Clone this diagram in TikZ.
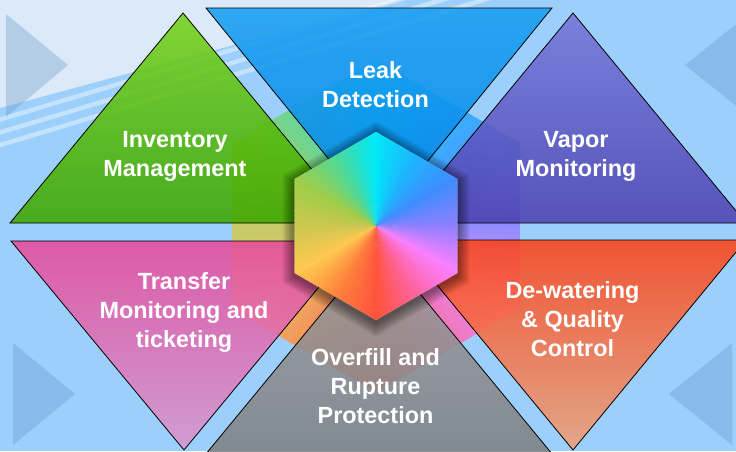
\documentclass[tikz,border=0pt]{standalone}
\usepackage{fontspec}
\setmainfont{Liberation Sans}
\definecolor{bgblue}{RGB}{156,207,251}
\definecolor{bgwhite}{RGB}{220,233,248}
\definecolor{decoc}{RGB}{90,143,192}
% conic keyframes
\definecolor{hA}{RGB}{0,232,248}
\definecolor{hB}{RGB}{30,180,255}
\definecolor{hC}{RGB}{64,140,255}
\definecolor{hD}{RGB}{140,128,255}
\definecolor{hE}{RGB}{250,128,255}
\definecolor{hF}{RGB}{255,100,160}
\definecolor{hG}{RGB}{255,84,60}
\definecolor{hH}{RGB}{255,130,60}
\definecolor{hI}{RGB}{255,200,80}
\definecolor{hJ}{RGB}{205,200,80}
\definecolor{hK}{RGB}{160,205,72}
\definecolor{hL}{RGB}{80,216,150}
\definecolor{hMid}{RGB}{200,190,200}
% triangle colours
\definecolor{greenT}{RGB}{118,210,26}
\definecolor{greenB}{RGB}{60,166,0}
\definecolor{blueT}{RGB}{24,158,242}
\definecolor{blueB}{RGB}{4,132,230}
\definecolor{purpT}{RGB}{118,118,216}
\definecolor{purpB}{RGB}{76,66,176}
\definecolor{pinkT}{RGB}{230,74,156}
\definecolor{pinkB}{RGB}{216,150,206}
\definecolor{grayT}{RGB}{160,158,158}
\definecolor{grayB}{RGB}{126,128,130}
\definecolor{oranT}{RGB}{252,68,24}
\definecolor{oranB}{RGB}{236,162,122}
\newcommand\conicfill[3]{%
  \foreach \aA/\cA/\cB in {90/hA/hB,60/hB/hC,30/hC/hD,0/hD/hE,-30/hE/hF,-60/hF/hG,-90/hG/hH,-120/hH/hI,-150/hI/hJ,-180/hJ/hK,-210/hK/hL,-240/hL/hA}{%
    \foreach \t in {0,...,9}{%
      \pgfmathsetmacro\ang{\aA-3*\t}%
      \pgfmathtruncatemacro\pct{10*\t}%
      \colorlet{wc}{\cB!\pct!\cA}%
      \colorlet{wd}{wc!#3!bgblue}%
      \fill[wd] (#1) -- +({\ang+2}:#2) -- +({\ang-2}:#2) -- cycle;
    }%
  }%
}
\tikzset{
  tri/.style={draw=black, line width=0.8pt, fill opacity=0.88, line join=miter},
  deco/.style={fill=decoc, fill opacity=0.3},
  lbl/.style={text=white, font=\bfseries\fontsize{23.4}{29}\selectfont, align=center, inner sep=0pt},
  shad/.style={fill=black, fill opacity=0.035}
}
\begin{document}
\begin{tikzpicture}[x=1pt,y=1pt]
\useasboundingbox (0,0) rectangle (736,-451);
\clip (0,0) rectangle (736,-451);
% background
\fill[bgblue] (0,0) rectangle (736,-451);
\fill[bgwhite] (0,0) -- (400,0) -- (0,-108) -- cycle;
\foreach \o in {119.5,132.5,145}
  \draw[white, opacity=0.4, line width=4.5pt] (-5,{-\o-1.5}) -- (500,{150-\o});
% decorative arrows
\fill[deco] (6,-14) -- (6,-117) -- (68,-65) -- cycle;
\fill[deco] (685,-65) -- (750,-13) -- (750,-117) -- cycle;
\fill[deco] (13,-343) -- (13,-445) -- (75,-394) -- cycle;
\fill[deco] (669,-394) -- (732,-343) -- (732,-445) -- cycle;
% large faint hexagon
\coordinate (C) at (376,-226);
\begin{scope}
  \clip (376,-60) -- (519.8,-143) -- (519.8,-309) -- (376,-392) -- (232.2,-309) -- (232.2,-143) -- cycle;
  \conicfill{C}{200}{85}
\end{scope}
% triangles
\shadedraw[tri, top color=greenT, bottom color=greenB] (183,-13) -- (10,-223) -- (356,-223) -- cycle;
\shadedraw[tri, top color=blueT, bottom color=blueB] (206,-8) -- (552,-8) -- (379,-221) -- cycle;
\shadedraw[tri, top color=purpT, bottom color=purpB] (573,-13) -- (400,-223) -- (746,-223) -- cycle;
\shadedraw[tri, top color=pinkT, bottom color=pinkB] (11,-241) -- (357,-241) -- (184,-450) -- cycle;
\shadedraw[tri, top color=grayT, bottom color=grayB] (379,-244) -- (205,-455) -- (553,-455) -- cycle;
\shadedraw[tri, top color=oranT, bottom color=oranB] (400,-240) -- (746,-240) -- (573,-450) -- cycle;
% shadow of the central hexagon
\foreach \r in {1,...,14}
  \fill[shad, shift={(376,-229)}] (90:{94+\r}) -- (150:{94+\r}) -- (210:{94+\r}) -- (270:{94+\r}) -- (330:{94+\r}) -- (30:{94+\r}) -- cycle;
% central hexagon
\begin{scope}
  \clip (376,-132) -- (457.4,-179) -- (457.4,-273) -- (376,-320) -- (294.6,-273) -- (294.6,-179) -- cycle;
  \fill[hMid] (376,-132) -- (457.4,-179) -- (457.4,-273) -- (376,-320) -- (294.6,-273) -- (294.6,-179) -- cycle;
  \conicfill{C}{120}{100}
\end{scope}
% labels
\node[lbl] (inv) at (175,-156) {Inventory\\Management};
\node[lbl] (leak) at (375.5,-85) {Leak\\Detection};
\node[lbl] (vap) at (576,-156.5) {Vapor\\Monitoring};
\node[lbl] (trans) at (184,-312) {Transfer\\Monitoring and\\ticketing};
\node[lbl] (over) at (375.5,-386.5) {Overfill and\\Rupture\\Protection};
\node[lbl] (dew) at (572.5,-319) {De-watering\\\& Quality\\Control};
\end{tikzpicture}
\end{document}
